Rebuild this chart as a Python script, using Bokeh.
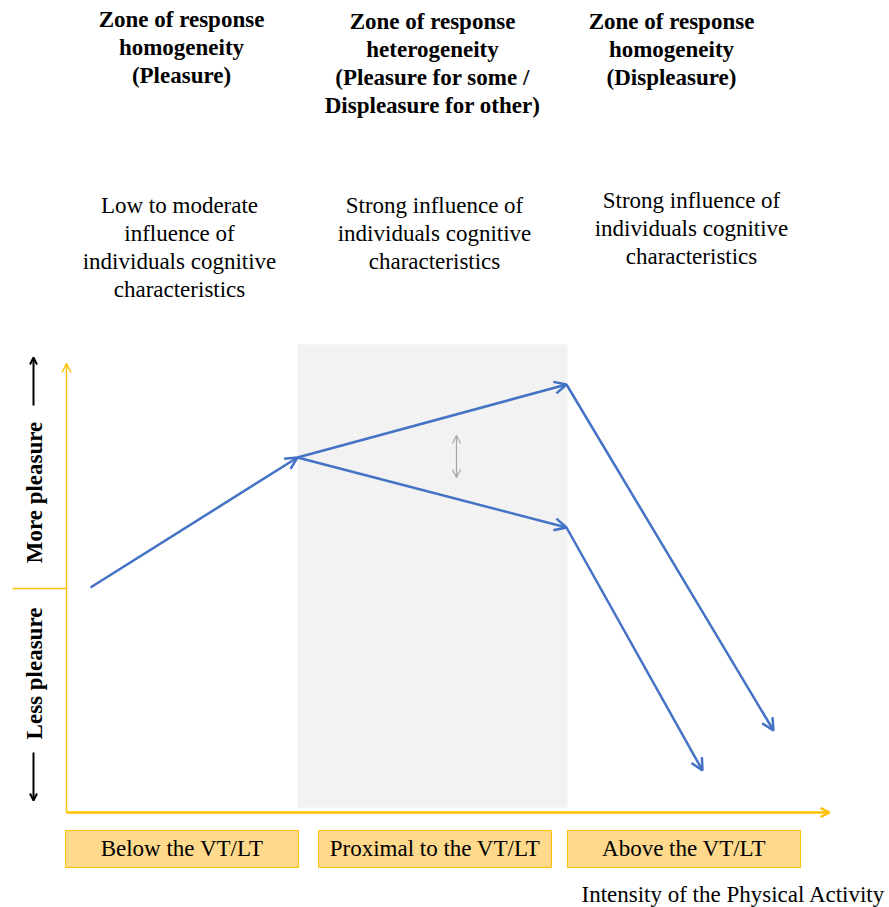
from bokeh.plotting import figure
from bokeh.models import Arrow, OpenHead, Range1d, ColumnDataSource
from bokeh.core.properties import value
from bokeh.embed import file_html
from bokeh.resources import INLINE
import math

# ---------------- data (intensity on x, affective response / pleasure on y) -------------
# path nodes of the affective response
node_from_x = [24, 231, 231, 500, 500]
node_from_y = [1, 131, 131, 204, 61]
node_to_x = [231, 500, 500, 707, 636]
node_to_y = [131, 204, 61, -142, -182]

# heterogeneity zone (grey band)
zone_left, zone_right = 231, 501
zone_top, zone_bottom = 244, -219

# axis extents
x_axis_end = 763
y_axis_bottom, y_axis_top = -224, 225

# intensity domain categories
domain_labels = ["Below the VT/LT", "Proximal to the VT/LT", "Above the VT/LT"]
domain_left = [-1, 252, 501]
domain_right = [232, 485, 734]

header_lines = [
    ["Zone of response", "homogeneity", "(Pleasure)"],
    ["Zone of response", "heterogeneity", "(Pleasure for some /", "Displeasure for other)"],
    ["Zone of response", "homogeneity", "(Displeasure)"],
]
desc_lines = [
    ["Low to moderate", "influence of", "individuals cognitive", "characteristics"],
    ["Strong influence of", "individuals cognitive", "characteristics"],
    ["Strong influence of", "individuals cognitive", "characteristics"],
]

# ---------------- layout constants ----------------
W, H = 889, 907
OFF = 0
X0, Y0 = 66 - OFF, 588 - OFF   # origin position in figure pixels


def px(X):
    return X - OFF - X0


def py(Y):
    return Y0 - (Y - OFF)


header_cx = [181, 432, 671]
header_top = [19, 21, 21]
desc_cx = [179, 434, 691]
desc_top = [205, 205, 200]
line_h = 28
FS = "23px"

SERIF = value("Liberation Serif")
BLUE = "#4472C4"
GOLD = "#FFC000"

p = figure(width=W, height=H, x_range=Range1d(px(OFF), px(OFF + W)), y_range=Range1d(py(OFF + H), py(OFF)),
           output_backend="svg", toolbar_location=None, min_border=0,
           x_axis_type=None, y_axis_type=None)
p.grid.visible = False
p.outline_line_color = None
p.background_fill_color = "white"

# grey zone
p.quad(left=[zone_left], right=[zone_right], top=[zone_top], bottom=[zone_bottom],
       fill_color="#F2F2F2", line_color=None)

# axes
p.add_layout(Arrow(end=OpenHead(size=9, line_color=GOLD, line_width=1.5),
                   x_start=0, y_start=y_axis_bottom, x_end=0, y_end=y_axis_top,
                   line_color=GOLD, line_width=1.5))
p.add_layout(Arrow(end=OpenHead(size=9, line_color=GOLD, line_width=2.5),
                   x_start=0, y_start=y_axis_bottom, x_end=x_axis_end, y_end=y_axis_bottom,
                   line_color=GOLD, line_width=2.5))
p.segment(x0=[px(12)], y0=[0], x1=[0], y1=[0], line_color=GOLD, line_width=1.5)

# response path
src = ColumnDataSource(dict(x_start=node_from_x, y_start=node_from_y, x_end=node_to_x, y_end=node_to_y))
p.add_layout(Arrow(end=OpenHead(size=12, line_color=BLUE, line_width=2.5), source=src,
                   x_start="x_start", y_start="y_start", x_end="x_end", y_end="y_end",
                   line_color=BLUE, line_width=2.5))

# grey double arrow (variability)
gx = px(456)
p.add_layout(Arrow(start=OpenHead(size=8, line_color="#A6A6A6", line_width=1.2),
                   end=OpenHead(size=8, line_color="#A6A6A6", line_width=1.2),
                   x_start=gx, y_start=py(477), x_end=gx, y_end=py(435),
                   line_color="#A6A6A6", line_width=1.2))

# black pleasure arrows
p.add_layout(Arrow(end=OpenHead(size=7, line_color="black", line_width=2),
                   x_start=px(33), y_start=py(405), x_end=px(33), y_end=py(357),
                   line_color="black", line_width=2))
p.add_layout(Arrow(end=OpenHead(size=7, line_color="black", line_width=2),
                   x_start=px(33), y_start=py(752), x_end=px(33), y_end=py(800),
                   line_color="black", line_width=2))

# vertical labels
p.text(x=[px(34), px(34)], y=[py(492), py(673)], text=["More pleasure", "Less pleasure"],
       angle=math.pi / 2, text_align="center", text_baseline="middle",
       text_font=SERIF, text_font_style="bold", text_font_size=FS, text_color="black")

# domain boxes
p.quad(left=domain_left, right=domain_right, top=[py(830)] * 3, bottom=[py(867)] * 3,
       fill_color="#FFD98C", line_color=GOLD, line_width=1)
p.text(x=[(a + b) / 2 for a, b in zip(domain_left, domain_right)], y=[py(848)] * 3,
       text=domain_labels, text_align="center", text_baseline="middle",
       text_font=SERIF, text_font_size=FS, text_color="black")

# x-axis title
p.text(x=[px(733)], y=[py(894)], text=["Intensity of the Physical Activity"],
       text_align="center", text_baseline="middle",
       text_font=SERIF, text_font_size=FS, text_color="black")

# headers
hx, hy, ht = [], [], []
for cx, top, lines in zip(header_cx, header_top, header_lines):
    for i, t in enumerate(lines):
        hx.append(px(cx)); hy.append(py(top + i * line_h)); ht.append(t)
p.text(x=hx, y=hy, text=ht, text_align="center", text_baseline="middle",
       text_font=SERIF, text_font_style="bold", text_font_size=FS, text_color="black")

# descriptions
dx, dy, dt = [], [], []
for cx, top, lines in zip(desc_cx, desc_top, desc_lines):
    for i, t in enumerate(lines):
        dx.append(px(cx)); dy.append(py(top + i * line_h)); dt.append(t)
p.text(x=dx, y=dy, text=dt, text_align="center", text_baseline="middle",
       text_font=SERIF, text_font_size=FS, text_color="black")

open("out.html", "w").write(file_html(p, INLINE))
